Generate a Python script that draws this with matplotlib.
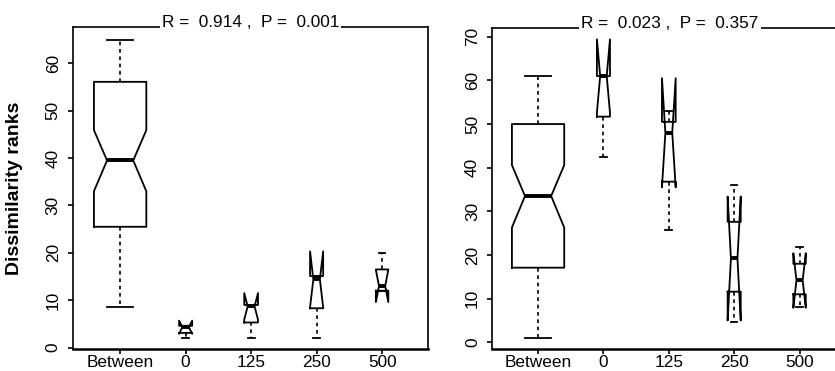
import matplotlib.pyplot as plt

plt.rcParams["font.family"] = ["Liberation Sans", "DejaVu Sans"]

# Data
groups = ["Between", "0", "125", "250", "500"]

# left panel
left_title = "R =  0.914 ,  P =  0.001"
left_whislo = [8.6, 2.0, 2.0, 2.1, 12.0]
left_q1     = [25.5, 3.1, 5.3, 8.3, 12.0]
left_med    = [39.5, 4.3, 8.7, 14.4, 13.0]
left_q3     = [56.1, 4.6, 9.0, 15.1, 16.5]
left_whishi = [65.0, 4.6, 9.0, 15.1, 20.0]
left_cilo   = [33.0, 2.9, 5.9, 8.5, 9.6]
left_cihi   = [45.9, 5.7, 11.5, 20.3, 16.4]

# right panel
right_title = "R =  0.023 ,  P =  0.357"
right_whislo = [1.0, 42.5, 25.7, 4.7, 8.2]
right_q1     = [17.1, 51.7, 36.8, 11.6, 11.0]
right_med    = [33.5, 61.0, 48.0, 19.2, 14.2]
right_q3     = [50.0, 61.0, 50.5, 27.6, 18.0]
right_whishi = [61.0, 61.0, 53.0, 36.0, 21.8]
right_cilo   = [26.3, 52.6, 35.5, 5.0, 7.9]
right_cihi   = [40.6, 69.4, 60.5, 33.4, 20.4]

box_widths = [0.8, 0.2, 0.21, 0.2, 0.19]


def make_stats(whislo, q1, med, q3, whishi, cilo, cihi):
    stats = []
    for i in range(len(groups)):
        stats.append(dict(label=groups[i], whislo=whislo[i], q1=q1[i], med=med[i],
                          q3=q3[i], whishi=whishi[i], cilo=cilo[i], cihi=cihi[i],
                          fliers=[]))
    return stats


def draw_panel(ax, stats, title, ylim, yticks):
    ax.bxp(stats, positions=range(1, len(groups) + 1), widths=box_widths,
           shownotches=True, showfliers=False,
           boxprops=dict(color="black", linewidth=1.3),
           whiskerprops=dict(color="black", linewidth=1.2, linestyle=(0, (2.2, 2.2))),
           capprops=dict(color="black", linewidth=1.3),
           medianprops=dict(color="black", linewidth=2.8))
    ax.set_xlim(0.28, 5.70)
    ax.set_ylim(*ylim)
    ax.set_yticks(yticks)
    ax.set_xticks(range(1, len(groups) + 1))
    ax.set_xticklabels(groups)
    ax.tick_params(axis="y", labelsize=12.4, length=3.8, width=1.2, pad=5,
                   labelrotation=90)
    ax.tick_params(axis="x", labelsize=12.4, length=3.8, width=1.2, pad=0.5)
    for lbl in ax.get_yticklabels():
        lbl.set_va("center")
    for side in ["top", "left", "right"]:
        ax.spines[side].set_linewidth(1.2)
    ax.spines["bottom"].set_linewidth(1.8)
    ax.text(0.5, 1.0, title, transform=ax.transAxes, ha="center", va="baseline",
            fontsize=12.4, zorder=5, clip_on=False,
            bbox=dict(facecolor="white", edgecolor="none", pad=1.5))


fig = plt.figure(figsize=(8.35, 3.71), dpi=100)
ax1 = fig.add_axes([0.0874, 0.0593, 0.4251, 0.867])
ax2 = fig.add_axes([0.5896, 0.0585, 0.4251, 0.866])

draw_panel(ax1, make_stats(left_whislo, left_q1, left_med, left_q3,
                           left_whishi, left_cilo, left_cihi),
           left_title, (-0.3, 67.6), range(0, 61, 10))
draw_panel(ax2, make_stats(right_whislo, right_q1, right_med, right_q3,
                           right_whishi, right_cilo, right_cihi),
           right_title, (-1.6, 72.0), range(0, 71, 10))
ax2.set_xlim(0.30, 5.73)

ax1.set_ylabel("Dissimilarity ranks", fontsize=14, fontweight="bold")
ax1.yaxis.set_label_coords(-0.141, 0.5)

fig.savefig("out.png", dpi=100)
plt.close()
